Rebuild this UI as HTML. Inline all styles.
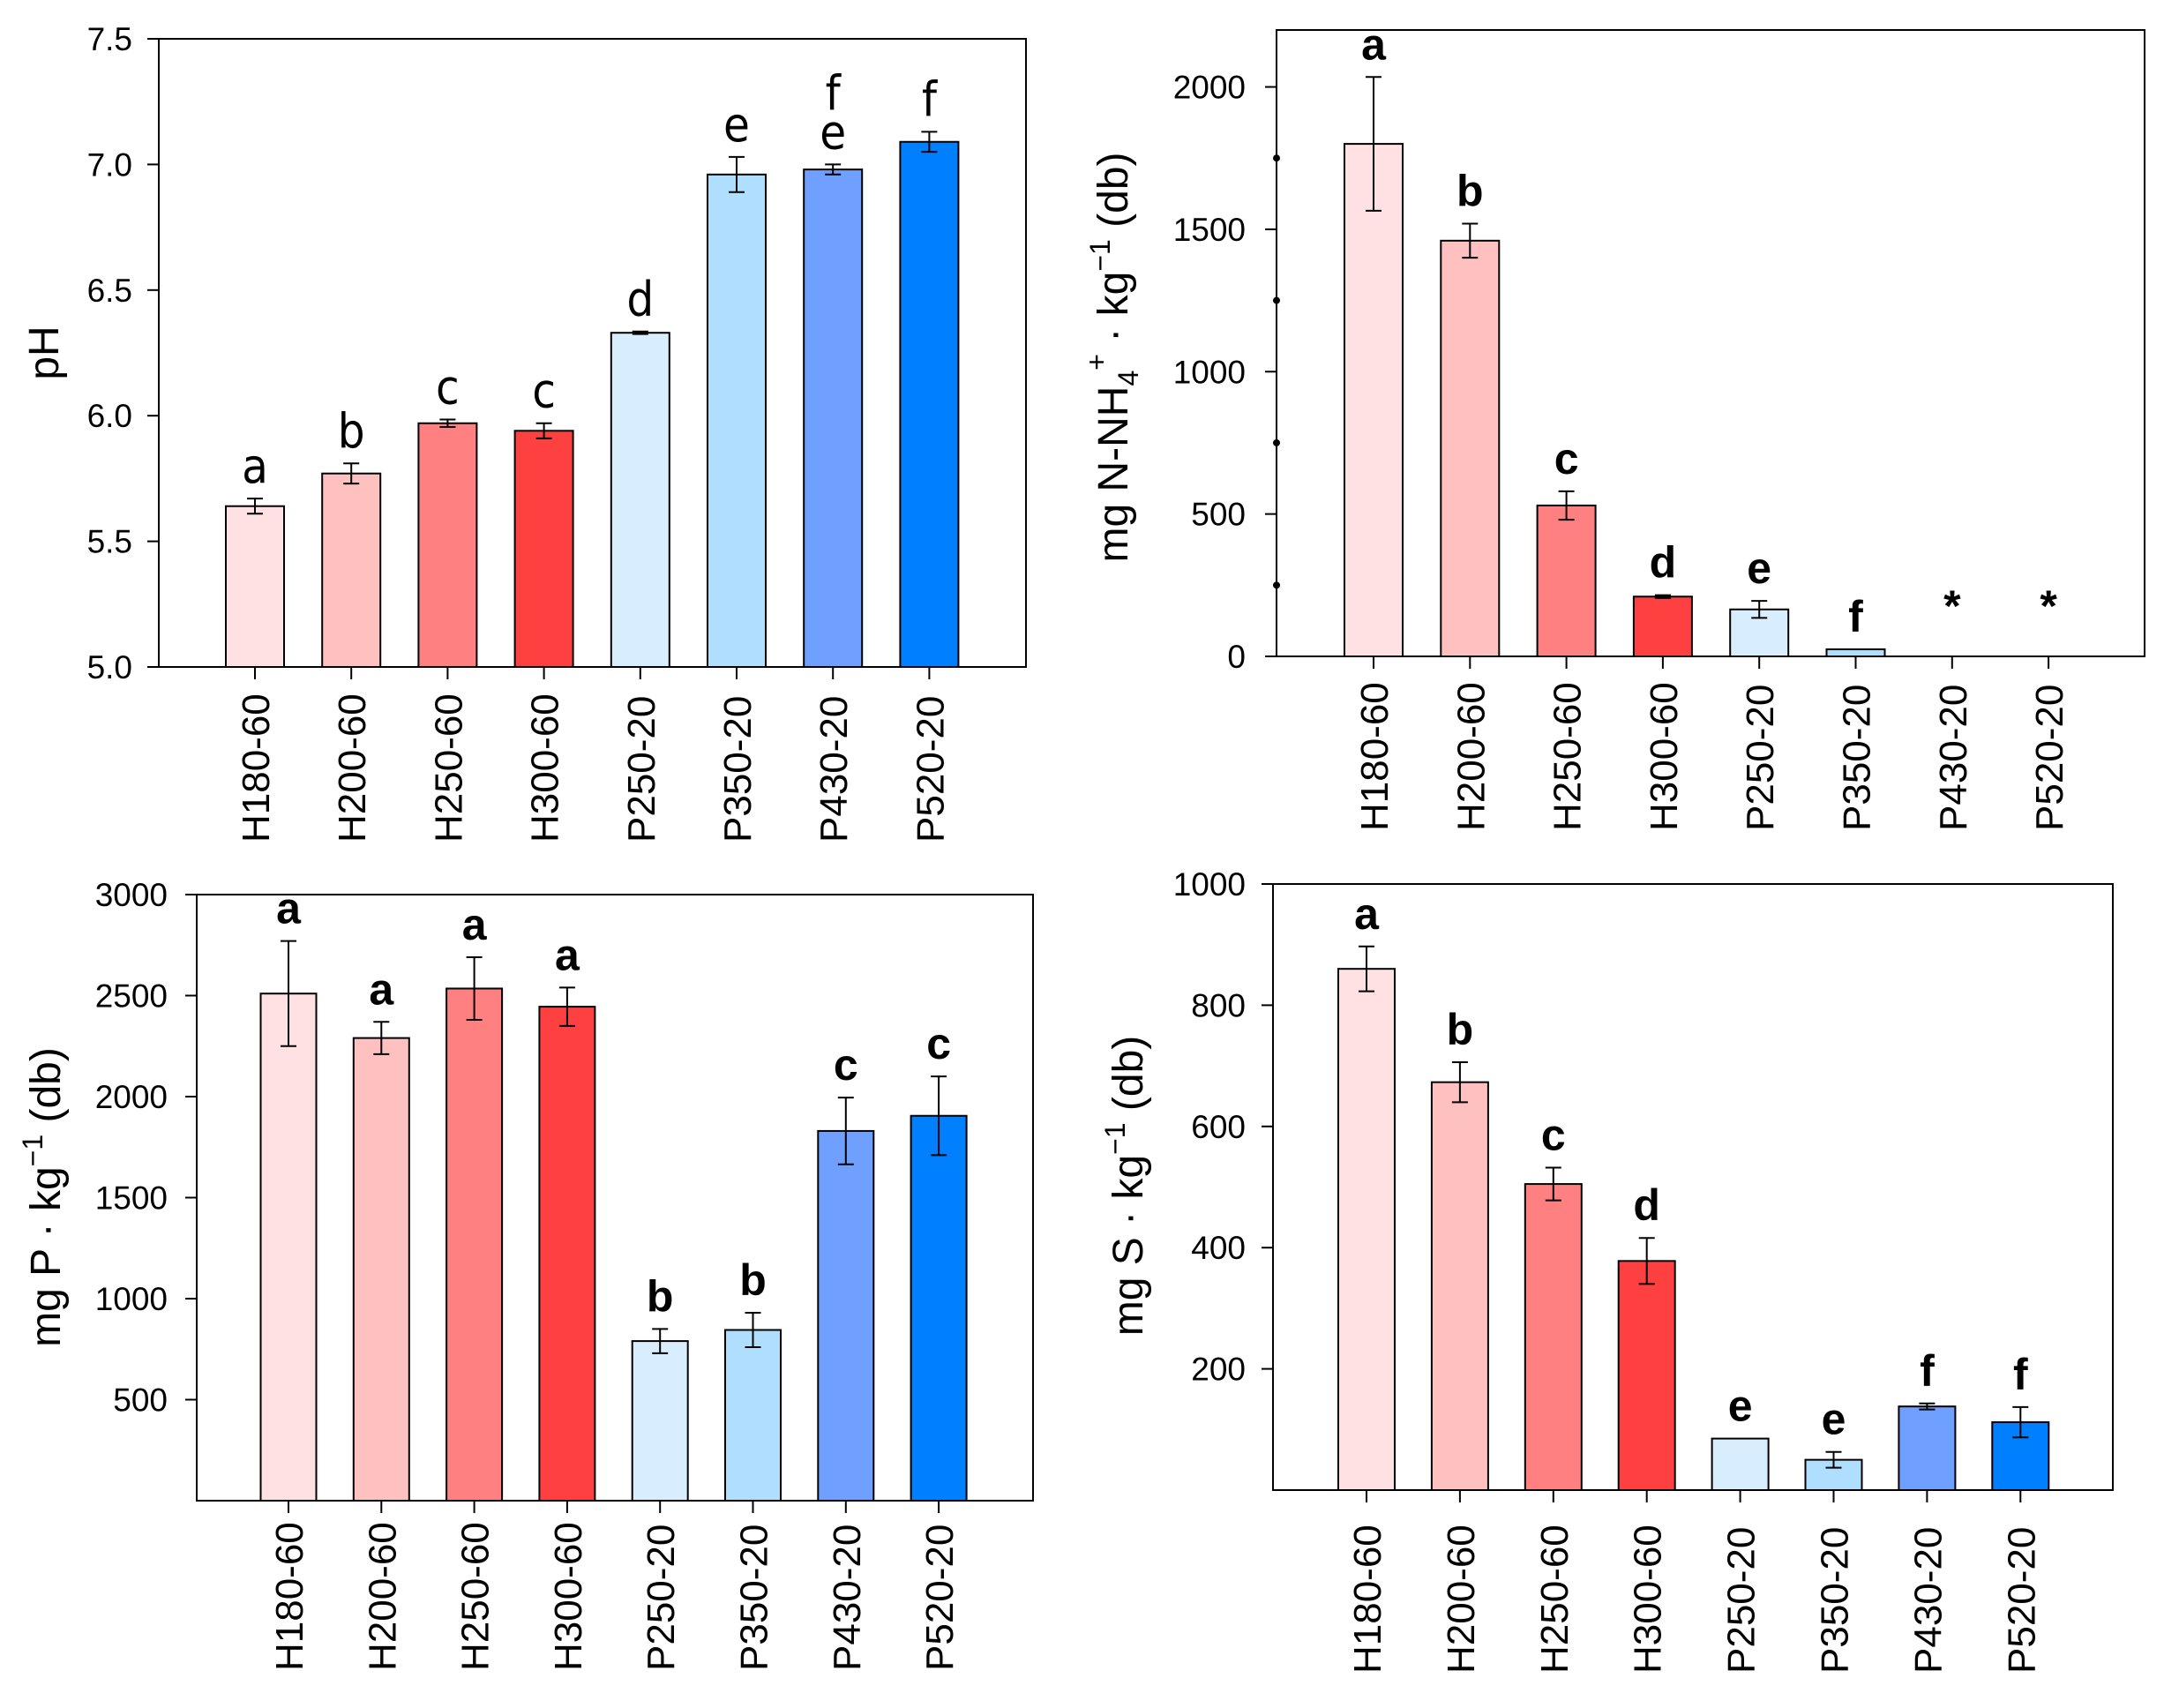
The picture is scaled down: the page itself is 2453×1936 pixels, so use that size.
<!DOCTYPE html>
<html><head><meta charset="utf-8"><style>
html,body{margin:0;padding:0;background:#fff;}
svg{display:block;font-family:"Liberation Sans",Arial,sans-serif;}
</style></head><body>
<svg id="fig" width="2453" height="1936" viewBox="0 0 2453 1936" xmlns="http://www.w3.org/2000/svg"></svg>
<script>
const categories = ["H180-60","H200-60","H250-60","H300-60","P250-20","P350-20","P430-20","P520-20"];
const colors = ["#FFE0E3","#FFC0C0","#FF8080","#FF4040","#D8EEFF","#B0DEFF","#70A0FF","#0080FF"];

const phValues = [5.64,5.77,5.97,5.94,6.33,6.96,6.98,7.09];
const phErrors = [0.03,0.04,0.015,0.03,0.005,0.07,0.02,0.04];
const phLetters = ["a","b","c","c","d","e","e|f","f"];
const phTicks = ["5.0","5.5","6.0","6.5","7.0","7.5"];

const nhValues = [1800,1460,530,210,165,25,0,0];
const nhErrors = [235,60,50,5,30,0,0,0];
const nhLetters = ["a","b","c","d","e","f","*","*"];
const nhTicks = ["0","500","1000","1500","2000"];
const nhMinor = [250,750,1250,1750];

const pValues = [2510,2290,2535,2445,790,845,1830,1905];
const pErrors = [260,80,155,95,60,85,165,195];
const pLetters = ["a","a","a","a","b","b","c","c"];
const pTicks = ["500","1000","1500","2000","2500","3000"];

const sValues = [860,673,505,378,85,50,138,112];
const sErrors = [37,33,27,38,0,13,5,25];
const sLetters = ["a","b","c","d","e","e","f","f"];
const sTicks = ["200","400","600","800","1000"];

const NS="http://www.w3.org/2000/svg";
const svg=document.getElementById('fig');
function mk(tag,attrs,parent){const e=document.createElementNS(NS,tag);for(const k in attrs)e.setAttribute(k,attrs[k]);(parent||svg).appendChild(e);return e;}

function panel(cfg){
  const g=mk('g',{});
  
  
  const {L,R,T,B,min,max,cx0,dx,bw}=cfg;
  const y=v=>B-(v-min)/(max-min)*(B-T);
  const x=i=>cx0+i*dx;
  cfg.values.forEach((v,i)=>{
    if(v<=min && cfg.skipZero) return;
    const r=mk('rect',{x:x(i)-bw/2,y:y(v),width:bw,height:B-y(v),fill:colors[i],stroke:'#000','stroke-width':2},g);
    
    
    const e=cfg.errors[i];
    if(e>0){
      const eb=mk('g',{stroke:'#000','stroke-width':2},g);
      
      
      mk('line',{x1:x(i),x2:x(i),y1:y(v+e),y2:y(v-e)},eb);
      mk('line',{x1:x(i)-9,x2:x(i)+9,y1:y(v+e),y2:y(v+e)},eb);
      mk('line',{x1:x(i)-9,x2:x(i)+9,y1:y(v-e),y2:y(v-e)},eb);
    }
  });
  cfg.letters.forEach((l,i)=>{
    const v=cfg.values[i],e=cfg.errors[i];
    let base=y(v+e)-cfg.gap;
    if(l==='*') base=y(0)-cfg.starOff;
    l.split('|').forEach((p,k)=>{
      const t=mk('text',{x:x(i),y:base-k*cfg.stack,'text-anchor':'middle','font-size':cfg.lfs,'font-weight':cfg.lfw,'font-family':cfg.lff},g);
      t.textContent=p;
      
      
    });
  });
  const fr=mk('rect',{x:L,y:T,width:R-L,height:B-T,fill:'none',stroke:'#000','stroke-width':2},g);
  
  
  cfg.ticks.forEach(tl=>{
    const v=parseFloat(tl),yy=y(v);
    mk('line',{x1:L-13,x2:L,y1:yy,y2:yy,stroke:'#000','stroke-width':2},g);
    const t=mk('text',{x:cfg.tlx,y:yy+13,'text-anchor':'end','font-size':37},g);
    t.textContent=tl;
    
    
  });
  (cfg.minor||[]).forEach(v=>{mk('circle',{cx:L,cy:y(v),r:4,fill:'#000'},g);});
  categories.forEach((c,i)=>{
    mk('line',{x1:x(i),x2:x(i),y1:B,y2:B+14,stroke:'#000','stroke-width':2},g);
    const t=mk('text',{x:0,y:0,'text-anchor':'start','font-size':44,transform:`translate(${x(i)+16},${cfg.xly}) rotate(-90)`},g);
    t.textContent=c;
    
    
  });
  const yt=mk('text',{x:0,y:0,'text-anchor':'middle','font-size':48,transform:`translate(${cfg.ytx},${cfg.yty}) rotate(-90)`},g);
  
  
  yt.innerHTML=cfg.title;
}

panel({name:'ph-chart',L:180,R:1163,T:44,B:756,min:5,max:7.5,cx0:289,dx:109.2,bw:66,
  values:phValues,errors:phErrors,letters:phLetters,ticks:phTicks,tlx:150,xly:955,
  gap:18,stack:44,lfs:54,lfw:'normal',lff:'"DejaVu Sans Condensed","DejaVu Sans",sans-serif',
  ytx:66,yty:400,title:'pH'});

panel({name:'ammonium-chart',L:1447,R:2431,T:34,B:744,min:0,max:2200,cx0:1557,dx:109.3,bw:66,skipZero:true,
  values:nhValues,errors:nhErrors,letters:nhLetters,ticks:nhTicks,minor:nhMinor,tlx:1412,xly:942,
  gap:20,stack:44,lfs:50,lfw:'bold',lff:'"Liberation Sans",sans-serif',starOff:40,
  ytx:1278,yty:405,title:'mg N-NH<tspan font-size="32" dy="12">4</tspan><tspan font-size="32" dy="-36">+</tspan><tspan dy="24"> · kg</tspan><tspan font-size="32" dy="-20">−1</tspan><tspan dy="20"> (db)</tspan>'});

panel({name:'phosphorus-chart',L:223,R:1171,T:1014,B:1701,min:0,max:3000,cx0:327,dx:105.3,bw:63,
  values:pValues,errors:pErrors,letters:pLetters,ticks:pTicks,tlx:190,xly:1894,
  gap:20,stack:44,lfs:50,lfw:'bold',lff:'"Liberation Sans",sans-serif',
  ytx:68,yty:1357,title:'mg P · kg<tspan font-size="32" dy="-20">−1</tspan><tspan dy="20"> (db)</tspan>'});

panel({name:'sulfur-chart',L:1443,R:2395,T:1002,B:1689,min:0,max:1000,cx0:1549,dx:105.9,bw:64,
  values:sValues,errors:sErrors,letters:sLetters,ticks:sTicks,tlx:1412,xly:1897,
  gap:20,stack:44,lfs:50,lfw:'bold',lff:'"Liberation Sans",sans-serif',
  ytx:1295,yty:1344,title:'mg S · kg<tspan font-size="32" dy="-20">−1</tspan><tspan dy="20"> (db)</tspan>'});
</script>
</body></html>
